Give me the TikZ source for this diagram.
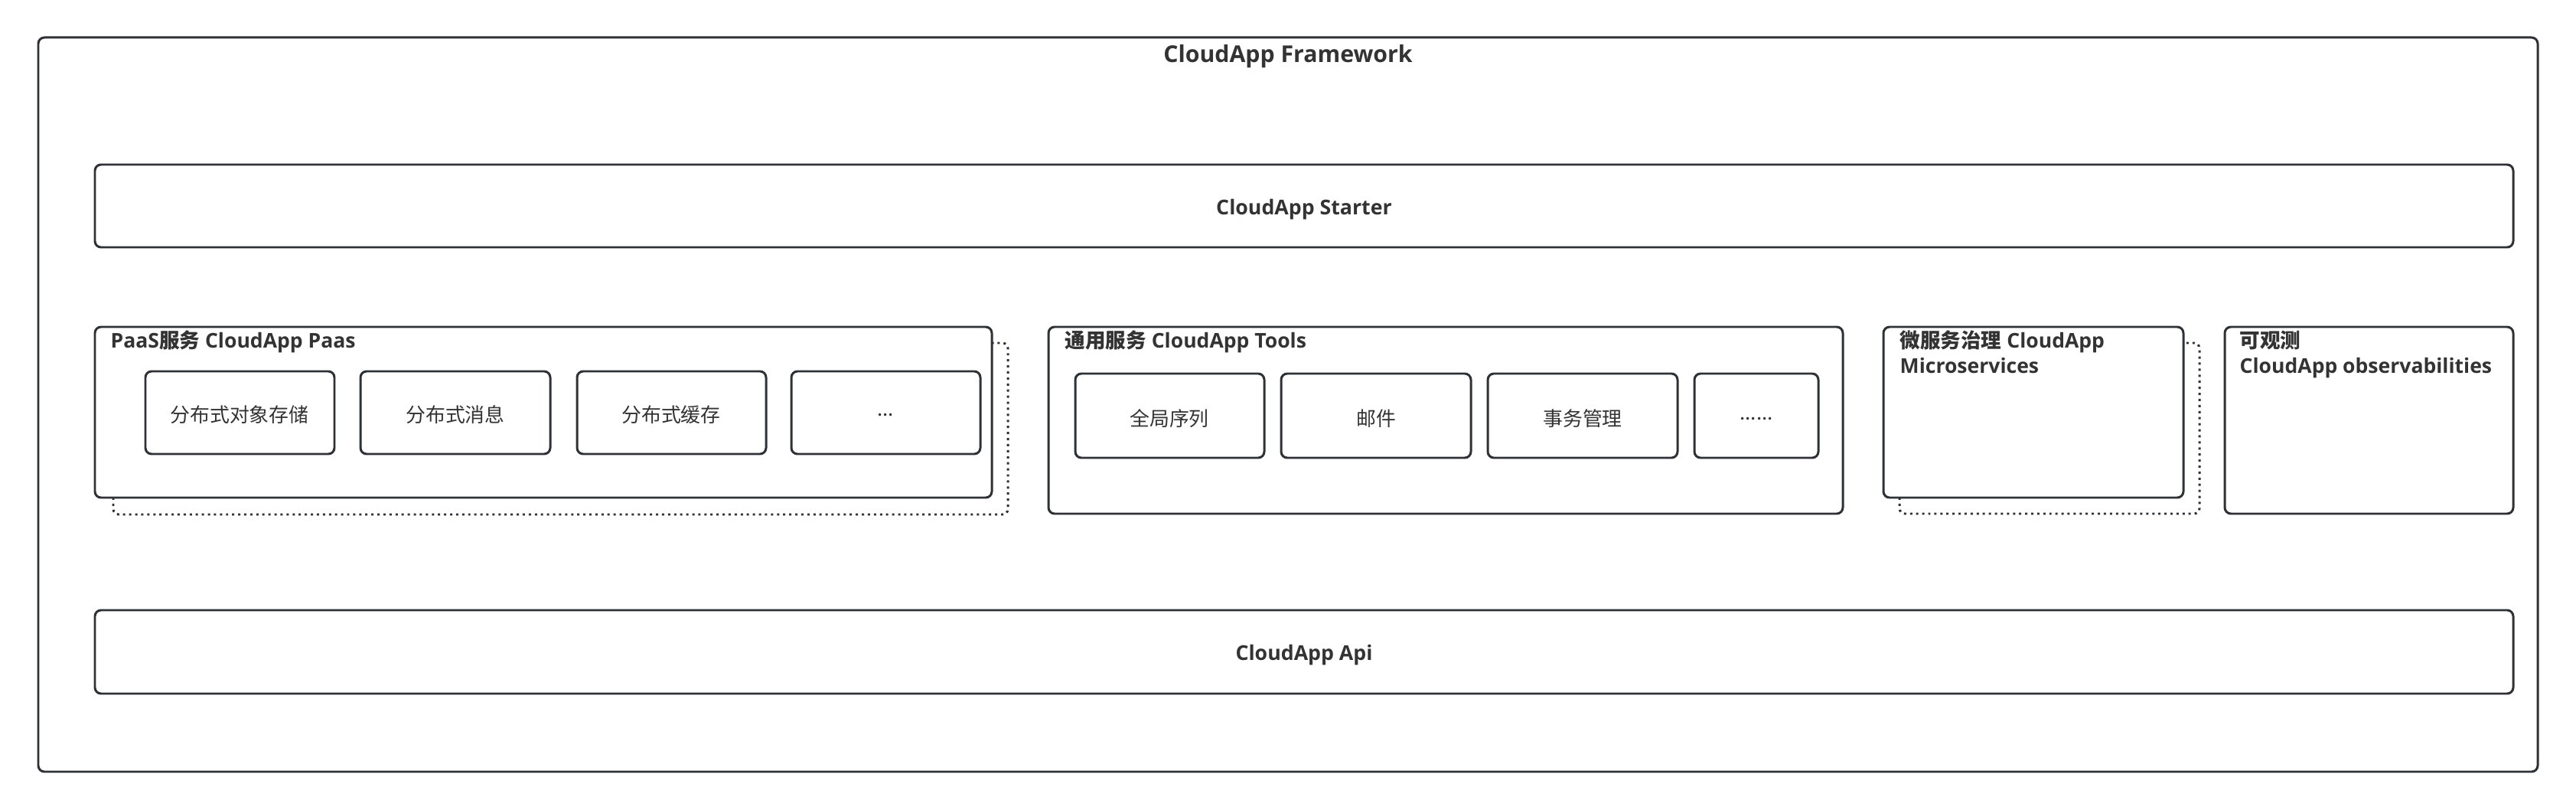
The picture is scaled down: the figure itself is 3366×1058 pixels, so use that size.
\documentclass[tikz,border=0pt]{standalone}
\usepackage{fontspec}
\setmainfont{Open Sans}
\newfontfamily\cjk{Noto Sans CJK SC}
\usetikzlibrary{fit}
\definecolor{ln}{HTML}{2E3236}
\definecolor{tx}{HTML}{333333}
\begin{document}
\begin{tikzpicture}[x=0.01cm,y=-0.01cm,
  box/.style={draw=ln, line width=0.85pt, rounded corners=2.3pt, inner sep=0pt},
  bigtext/.style={text=tx, font=\bfseries\fontsize{7.6}{9}\selectfont, inner sep=0pt},
  titletext/.style={text=tx, font=\bfseries\fontsize{8.6}{10}\selectfont, inner sep=0pt},
  sectext/.style={text=tx, font=\bfseries\fontsize{7.55}{9.4}\selectfont, inner sep=0pt, anchor=base west},
  itemtext/.style={text=tx, font=\cjk\fontsize{7.35}{9}\selectfont, inner sep=0pt},
  shadowline/.style={draw=ln, line width=0.85pt, dash pattern=on 0.85pt off 1.4pt, rounded corners=2pt}
]
\useasboundingbox (0,0) rectangle (3366,1058);
\fill[white] (0,0) rectangle (3366,1058);

% outer frame
\node[box, fit={(50,49)(3316,1008)}] (frame) {};
\node[titletext, anchor=base] (frametitle) at (1683,82) {CloudApp Framework};

% starter and api
\node[box, fit={(124,215)(3284,323)}] (starter) {};
\node[bigtext, anchor=base] (startertext) at (1704,281) {CloudApp Starter};
\node[box, fit={(124,797)(3284,906)}] (api) {};
\node[bigtext, anchor=base] (apitext) at (1704,862) {CloudApp Api};

% PaaS group
\draw[shadowline] (148,650) -- (148,672) -- (1317,672) -- (1317,448) -- (1296,448);
\node[box, fill=white, fit={(124,427)(1296,650)}] (paas) {};
\node[sectext] (paastitle) at (144,455) {PaaS{\cjk 服务} CloudApp Paas};
\node[box, fit={(190,485)(437,593)}] (p1) {};
\node[box, fit={(471,485)(719,593)}] (p2) {};
\node[box, fit={(754,485)(1001,593)}] (p3) {};
\node[box, fit={(1034,485)(1281,593)}] (p4) {};
\node[itemtext] (p1t) at (313,542) {分布式对象存储};
\node[itemtext] (p2t) at (595,542) {分布式消息};
\node[itemtext] (p3t) at (877,542) {分布式缓存};
\node[itemtext] (p4t) at (1157,542) {...};

% Tools group
\node[box, fit={(1370,427)(2408,671)}] (tools) {};
\node[sectext] (toolstitle) at (1391,455) {{\cjk 通用服务} CloudApp Tools};
\node[box, fit={(1405,488)(1652,598)}] (t1) {};
\node[box, fit={(1674,488)(1922,598)}] (t2) {};
\node[box, fit={(1944,488)(2192,598)}] (t3) {};
\node[box, fit={(2214,488)(2376,598)}] (t4) {};
\node[itemtext] (t1t) at (1528,547) {全局序列};
\node[itemtext] (t2t) at (1798,547) {邮件};
\node[itemtext] (t3t) at (2068,547) {事务管理};
\node[itemtext] (t4t) at (2295,547) {......};

% Microservices group
\draw[shadowline] (2482,650) -- (2482,671) -- (2874,671) -- (2874,448) -- (2853,448);
\node[box, fill=white, fit={(2461,427)(2853,650)}] (micro) {};
\node[sectext] (microtitle1) at (2482,455) {{\cjk 微服务治理} CloudApp};
\node[sectext] (microtitle2) at (2482,488) {Microservices};

% Observabilities group
\node[box, fit={(2907,427)(3284,671)}] (obs) {};
\node[sectext] (obstitle1) at (2926,455) {{\cjk 可观测}};
\node[sectext] (obstitle2) at (2926,488) {CloudApp observabilities};
\end{tikzpicture}
\end{document}
